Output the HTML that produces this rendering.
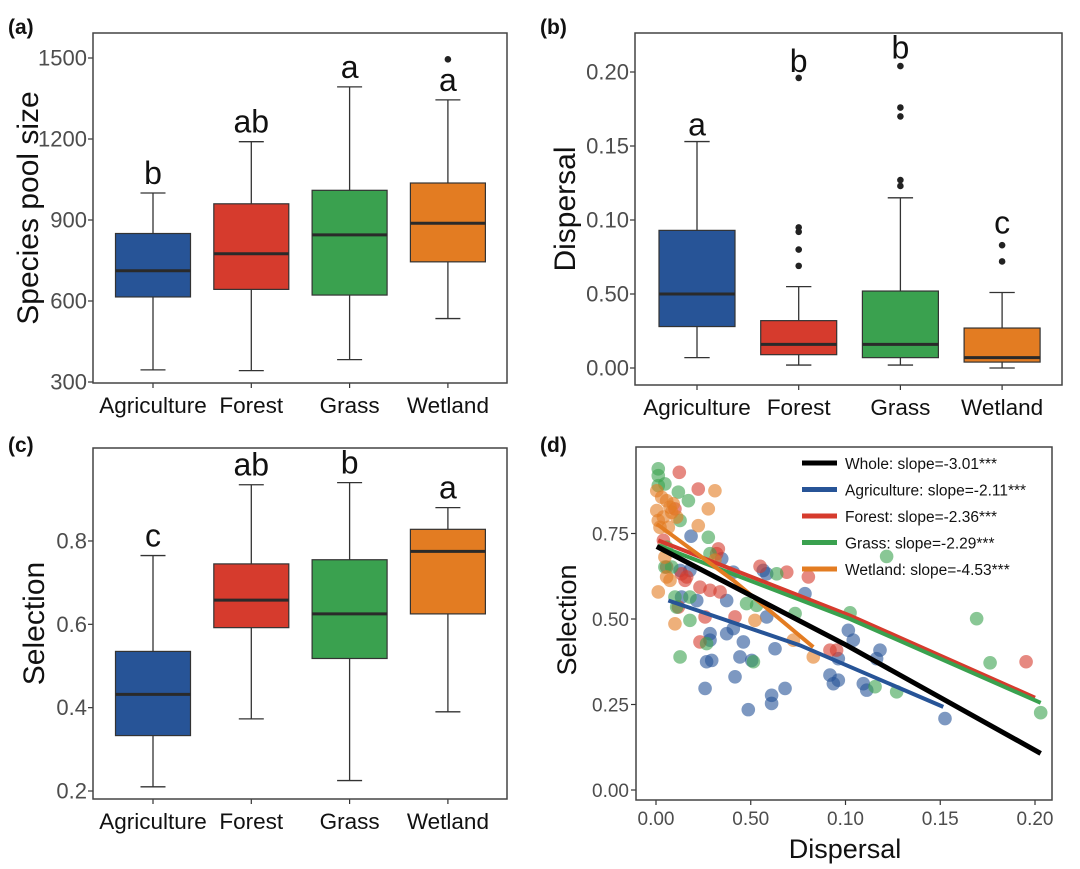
<!DOCTYPE html>
<html><head><meta charset="utf-8"><style>
body{margin:0;background:#fff;}
svg{display:block;font-family:"Liberation Sans",Arial,sans-serif;}
</style></head><body>
<svg id="fig" width="1080" height="869" viewBox="0 0 1080 869"></svg>
<script>
const categories=["Agriculture","Forest","Grass","Wetland"];
const colors=["#275497","#d63b2d","#3aa14f","#e37c22"];
// panel a
const aMin=[345,342,383,535], aQ1=[615,643,622,745], aMed=[712,775,845,888], aQ3=[850,960,1010,1037], aMax=[1000,1190,1393,1345];
const aOut=[[],[],[],[1495]], aLetters=["b","ab","a","a"], aTicks=[300,600,900,1200,1500];
// panel b
const bMin=[0.007,0.002,0.002,0.0], bQ1=[0.028,0.009,0.007,0.004], bMed=[0.05,0.016,0.016,0.007], bQ3=[0.093,0.032,0.052,0.027], bMax=[0.153,0.055,0.115,0.051];
const bOut=[[],[0.196,0.095,0.092,0.08,0.069],[0.204,0.176,0.17,0.127,0.123],[0.083,0.072]], bLetters=["a","b","b","c"];
const bLetterPos=[0.157,0.2,0.209,0.091];
const bTicks=[0,0.05,0.1,0.15,0.2], bTickLabels=["0.00","0.50","0.10","0.15","0.20"];
// panel c
const cMin=[0.21,0.373,0.225,0.39], cQ1=[0.333,0.592,0.518,0.625], cMed=[0.432,0.658,0.625,0.775], cQ3=[0.535,0.745,0.755,0.828], cMax=[0.765,0.935,0.94,0.88];
const cLetters=["c","ab","b","a"], cTicks=[0.2,0.4,0.6,0.8];
// panel d
const dXTicks=[0,0.05,0.1,0.15,0.2], dXLabels=["0.00","0.50","0.10","0.15","0.20"], dYTicks=[0,0.25,0.5,0.75], dYLabels=["0.00","0.25","0.50","0.75"];
const agriPts=[[0.0185,0.742],[0.0347,0.676],[0.0408,0.637],[0.0566,0.642],[0.0179,0.642],[0.0215,0.554],[0.0135,0.564],[0.0285,0.457],[0.0285,0.438],[0.0267,0.375],[0.0294,0.379],[0.0373,0.457],[0.0408,0.472],[0.0461,0.433],[0.0443,0.389],[0.0417,0.331],[0.0259,0.297],[0.0487,0.235],[0.0505,0.379],[0.0584,0.506],[0.0628,0.413],[0.061,0.277],[0.061,0.253],[0.0681,0.297],[0.0786,0.574],[0.0918,0.336],[0.0936,0.311],[0.0962,0.321],[0.0962,0.384],[0.1015,0.467],[0.1041,0.438],[0.1094,0.311],[0.1112,0.292],[0.1164,0.384],[0.1182,0.409],[0.1525,0.209],[0.0373,0.554],[0.0127,0.642],[0.0584,0.632]];
const forestPts=[[0.0123,0.929],[0.0223,0.88],[0.01,0.822],[0.0329,0.705],[0.032,0.691],[0.0232,0.593],[0.0285,0.584],[0.0338,0.579],[0.0259,0.506],[0.0232,0.433],[0.0135,0.632],[0.0153,0.613],[0.0549,0.654],[0.069,0.637],[0.0804,0.623],[0.0417,0.506],[0.0918,0.409],[0.0953,0.409],[0.1953,0.375],[0.0039,0.73],[0.0056,0.652],[0.0162,0.623],[0.0118,0.535]];
const grassPts=[[0.0012,0.939],[0.0012,0.919],[0.0012,0.89],[0.0047,0.895],[0.0118,0.871],[0.0171,0.846],[0.0127,0.788],[0.0276,0.739],[0.0285,0.691],[0.0047,0.652],[0.0083,0.652],[0.01,0.564],[0.0109,0.535],[0.0179,0.496],[0.0127,0.389],[0.0267,0.428],[0.0514,0.375],[0.0478,0.545],[0.0531,0.54],[0.0637,0.632],[0.0734,0.516],[0.1024,0.518],[0.1217,0.683],[0.1156,0.302],[0.127,0.287],[0.1692,0.501],[0.1763,0.372],[0.203,0.226],[0.0056,0.71],[0.0179,0.564]];
const wetPts=[[0.0311,0.875],[0.0276,0.822],[0.0004,0.817],[0.0012,0.788],[0.0056,0.846],[0.0074,0.827],[0.0039,0.798],[0.0091,0.837],[0.0065,0.768],[0.0021,0.768],[0.0047,0.681],[0.0056,0.623],[0.0074,0.613],[0.0012,0.579],[0.01,0.486],[0.0223,0.773],[0.0522,0.496],[0.0725,0.438],[0.083,0.389],[0.0004,0.875],[0.003,0.856],[0.0083,0.812],[0.0109,0.798],[0.0311,0.672]];
const fitWhole=[[0.0004,0.712],[0.1006,0.423],[0.203,0.107]];
const fitAgri=[[0.0065,0.554],[0.076,0.423],[0.1516,0.243]];
const fitForest=[[0.0012,0.73],[0.1024,0.51],[0.2,0.27]];
const fitGrass=[[0.0012,0.715],[0.1024,0.5],[0.203,0.255]];
const fitWet=[[0.0004,0.778],[0.0408,0.613],[0.083,0.418]];
const legendLabels=["Whole: slope=-3.01***","Agriculture: slope=-2.11***","Forest: slope=-2.36***","Grass: slope=-2.29***","Wetland: slope=-4.53***"];

const NS="http://www.w3.org/2000/svg", svg=document.getElementById("fig");
function mk(tag,attrs,parent,txt){const e=document.createElementNS(NS,tag);for(const k in attrs)e.setAttribute(k,attrs[k]);if(txt!==undefined)e.textContent=txt;(parent||svg).appendChild(e);return e;}

function boxPanel(id,box,ys,cx,bw,mins,q1,med,q3,maxs,outs,letters,letterPos,ticks,tickLabels,ytitle,ytx){
  const g=mk("g",{});
  
  
  ticks.forEach((t,i)=>{const y=ys(t);
    mk("line",{x1:box[0]-5,x2:box[0],y1:y,y2:y,stroke:"#333","stroke-width":1.2},g);
    const tx=mk("text",{x:box[0]-6,y:y+7.5,"text-anchor":"end","font-size":22,fill:"#4d4d4d"},g,tickLabels[i]);
    
    
  });
  categories.forEach((c,i)=>{const x=cx(i);
    mk("line",{x1:x,x2:x,y1:box[3],y2:box[3]+5,stroke:"#333","stroke-width":1.2},g);
    const ct=mk("text",{x:x,y:box[3]+30,"text-anchor":"middle","font-size":22.5,fill:"#111"},g,c);
    
    
    mk("line",{x1:x,x2:x,y1:ys(maxs[i]),y2:ys(q3[i]),stroke:"#333","stroke-width":1.3},g);
    mk("line",{x1:x,x2:x,y1:ys(q1[i]),y2:ys(mins[i]),stroke:"#333","stroke-width":1.3},g);
    mk("line",{x1:x-bw/6,x2:x+bw/6,y1:ys(maxs[i]),y2:ys(maxs[i]),stroke:"#333","stroke-width":1.3},g);
    mk("line",{x1:x-bw/6,x2:x+bw/6,y1:ys(mins[i]),y2:ys(mins[i]),stroke:"#333","stroke-width":1.3},g);
    const r=mk("rect",{x:x-bw/2,y:ys(q3[i]),width:bw,height:ys(q1[i])-ys(q3[i]),fill:colors[i],stroke:"#333","stroke-width":1.2},g);
    
    
    mk("line",{x1:x-bw/2,x2:x+bw/2,y1:ys(med[i]),y2:ys(med[i]),stroke:"#2a2a2a","stroke-width":3},g);
    (outs[i]||[]).forEach(o=>{const d=mk("circle",{cx:x,cy:ys(o),r:3.3,fill:"#222"},g);
      
      });
    const ly=letterPos?ys(letterPos[i]):ys(maxs[i])-9;
    const lt=mk("text",{x:x,y:ly,"text-anchor":"middle","font-size":32,fill:"#111"},g,letters[i]);
    
    
  });
  const fr=mk("rect",{x:box[0],y:box[1],width:box[2]-box[0],height:box[3]-box[1],fill:"none",stroke:"#444","stroke-width":1.5},g);
  
  
  const cy=(box[1]+box[3])/2;
  const yt=mk("text",{x:ytx,y:cy,transform:`rotate(-90 ${ytx} ${cy})`,"text-anchor":"middle","font-size":30,fill:"#111"},g,ytitle);
  
  
}
boxPanel("panel-a",[93,33,507,383],v=>382-(v-300)*81/300,i=>153+i*98.3,75,aMin,aQ1,aMed,aQ3,aMax,aOut,aLetters,null,aTicks,aTicks.map(String),"Species pool size",38);
boxPanel("panel-b",[635,33,1062,385],v=>368-v*1480,i=>697+i*101.7,76,bMin,bQ1,bMed,bQ3,bMax,bOut,bLetters,bLetterPos,bTicks,bTickLabels,"Dispersal",575);
boxPanel("panel-c",[93,448,507,799],v=>791-(v-0.2)*416.7,i=>153+i*98.3,75,cMin,cQ1,cMed,cQ3,cMax,[[],[],[],[]],cLetters,null,cTicks,cTicks.map(v=>v.toFixed(1)),"Selection",44);

[["(a)",8,34],["(b)",540,34],["(c)",8,452],["(d)",540,452]].forEach(p=>{const t=mk("text",{x:p[1],y:p[2],"font-size":21,"font-weight":"bold",fill:"#111"},svg,p[0]);
  
  });

const dg=mk("g",{});


const dx=v=>656+v*1895, dy=v=>790-v*342;
dXTicks.forEach((t,i)=>{mk("line",{x1:dx(t),x2:dx(t),y1:800,y2:805,stroke:"#333","stroke-width":1.2},dg);
  const tx=mk("text",{x:dx(t),y:825,"text-anchor":"middle","font-size":19,fill:"#4d4d4d"},dg,dXLabels[i]);
  
  });
dYTicks.forEach((t,i)=>{mk("line",{x1:631,x2:636,y1:dy(t),y2:dy(t),stroke:"#333","stroke-width":1.2},dg);
  const tx=mk("text",{x:629,y:dy(t)+7,"text-anchor":"end","font-size":19,fill:"#4d4d4d"},dg,dYLabels[i]);
  
  });
[[agriPts,0],[forestPts,1],[grassPts,2],[wetPts,3]].forEach(([pts,ci])=>{
  pts.forEach(p=>{const c=mk("circle",{cx:dx(p[0]),cy:dy(p[1]),r:6.8,fill:colors[ci],"fill-opacity":0.6},dg);
    
    });
});
const fits=[[fitForest,"#d63b2d"],[fitGrass,"#3aa14f"],[fitAgri,"#275497"],[fitWet,"#e37c22"],[fitWhole,"#000"]];
fits.forEach(([f,col])=>{const l=mk("polyline",{points:f.map(p=>dx(p[0])+","+dy(p[1])).join(" "),fill:"none",stroke:col,"stroke-width":col==="#000"?5:4},dg);
  
  });
const legCols=["#000","#275497","#d63b2d","#3aa14f","#e37c22"];
legendLabels.forEach((lab,i)=>{const y=463+i*26.5;
  const ln=mk("line",{x1:802,x2:837,y1:y,y2:y,stroke:legCols[i],"stroke-width":5},dg);
  
  
  const t=mk("text",{x:845,y:y+6,"font-size":15.5,fill:"#111"},dg,lab);
  
  });
const df=mk("rect",{x:636,y:447,width:416,height:353,fill:"none",stroke:"#444","stroke-width":1.5},dg);


const xt=mk("text",{x:845,y:858,"text-anchor":"middle","font-size":27,fill:"#111"},dg,"Dispersal");


const yt=mk("text",{x:576,y:620,transform:"rotate(-90 576 620)","text-anchor":"middle","font-size":27,fill:"#111"},dg,"Selection");


</script>
</body></html>
